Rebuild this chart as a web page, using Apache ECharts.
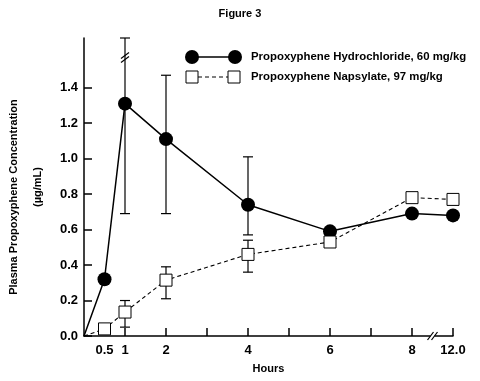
<!DOCTYPE html>
<html><head><meta charset="utf-8">
<script src="https://cdn.jsdelivr.net/npm/echarts@6/dist/echarts.min.js"></script>
<style>html,body{margin:0;padding:0;background:#fff}#c{width:480px;height:381px}</style>
</head><body><div id="c"></div>
<script>
const hours = [0, 0.5, 1, 2, 4, 6, 8, 12];
const hclMean = [0, 0.32, 1.31, 1.11, 0.74, 0.59, 0.69, 0.68];
const napMean = [0, 0.04, 0.135, 0.315, 0.46, 0.53, 0.78, 0.77];
const hclErrHours = [1, 2, 4];
const hclErrLow = [0.69, 0.69, 0.57];
const hclErrHigh = [1.68, 1.47, 1.01];
const napErrHours = [1, 2, 4];
const napErrLow = [0.05, 0.21, 0.36];
const napErrHigh = [0.20, 0.39, 0.54];
const xTickValues = [1, 2, 3, 4, 5, 6, 7, 8, 12];
const xLabelValues = [0.5, 1, 2, 4, 6, 8, 12];
const yTickValues = [0, 0.2, 0.4, 0.6, 0.8, 1.0, 1.2, 1.4];
const breakMarks = [[1, 1.57, 0], [8.5, 0, 1]];
const seriesNames = ['Propoxyphene Hydrochloride, 60 mg/kg', 'Propoxyphene Napsylate, 97 mg/kg'];
const yTitle = 'Plasma Propoxyphene Concentration';
const yUnit = '(µg/mL)';

const FONT = "'Liberation Sans', Arial, Helvetica, sans-serif";
const chart = echarts.init(document.getElementById('c'), null, {renderer: 'canvas'});

function errRender(params, api) {
  const x = api.value(0), lo = api.value(1), hi = api.value(2);
  const p1 = api.coord([x, lo]), p2 = api.coord([x, hi]);
  const w = 5, st = {stroke: '#000', lineWidth: 1.2};
  return {type: 'group', children: [
    {type: 'line', shape: {x1: p1[0], y1: p1[1], x2: p2[0], y2: p2[1]}, style: st},
    {type: 'line', shape: {x1: p1[0] - w, y1: p1[1], x2: p1[0] + w, y2: p1[1]}, style: st},
    {type: 'line', shape: {x1: p2[0] - w, y1: p2[1], x2: p2[0] + w, y2: p2[1]}, style: st}
  ]};
}
function breakRender(params, api) {
  const p = api.coord([api.value(0), api.value(1)]);
  const st = {stroke: '#000', lineWidth: 1.2};
  const kids = [];
  if (api.value(2) === 0) {
    [-2, 2].forEach(o => kids.push({type: 'line', shape: {x1: p[0] - 4, y1: p[1] + o + 3, x2: p[0] + 4, y2: p[1] + o - 3}, style: st}));
  } else {
    kids.push({type: 'rect', shape: {x: p[0] - 2, y: p[1] - 2, width: 4, height: 4}, style: {fill: '#fff'}});
    [-2, 2].forEach(o => kids.push({type: 'line', shape: {x1: p[0] + o - 3, y1: p[1] + 4, x2: p[0] + o + 3, y2: p[1] - 4}, style: st}));
  }
  return {type: 'group', children: kids};
}
const nameStyle = {color: '#000', fontWeight: 'bold', fontSize: 11, fontFamily: FONT, lineHeight: 22};

const option = {
  animation: false,
  backgroundColor: '#fff',
  title: {text: 'Figure 3', left: 'center', top: 3,
    textStyle: {fontFamily: "'Liberation Sans Narrow', " + FONT, fontWeight: 'bold', fontSize: 11, color: '#000'}},
  grid: {left: 84, right: 27, top: 38, bottom: 45, outerBoundsMode: 'none', containLabel: false},
  xAxis: {
    type: 'value', min: 0, max: 12,
    breaks: [{start: 8.5, end: 11.5, gap: 0}],
    breakArea: {show: false},
    axisLine: {lineStyle: {color: '#000', width: 1.5}},
    axisTick: {inside: true, length: 8, customValues: xTickValues, lineStyle: {color: '#000', width: 1.5}},
    axisLabel: {customValues: xLabelValues, color: '#000', fontWeight: 'bold', fontSize: 13, fontFamily: FONT, margin: 8,
      formatter: v => v === 12 ? '12.0' : String(v)},
    splitLine: {show: false},
    name: 'Hours', nameLocation: 'middle', nameGap: 27,
    nameTextStyle: {color: '#000', fontWeight: 'bold', fontSize: 11, fontFamily: FONT}
  },
  yAxis: [{
    type: 'value', min: 0, max: 1.68,
    axisLine: {show: true, lineStyle: {color: '#000', width: 1.5}},
    axisTick: {show: true, inside: true, length: 8, customValues: yTickValues, lineStyle: {color: '#000', width: 1.5}},
    axisLabel: {customValues: yTickValues, color: '#000', fontWeight: 'bold', fontSize: 13, fontFamily: FONT, margin: 6,
      formatter: v => v.toFixed(1)},
    splitLine: {show: false},
    name: yTitle, nameLocation: 'middle', nameRotate: 90, nameGap: 59,
    nameTextStyle: Object.assign({padding: [0, 20, 0, 0]}, nameStyle)
  }, {
    type: 'value', min: 0, max: 1.68, position: 'left',
    axisLine: {show: false}, axisTick: {show: false}, axisLabel: {show: false}, splitLine: {show: false},
    name: yUnit, nameLocation: 'middle', nameRotate: 90, nameGap: 35,
    nameTextStyle: nameStyle
  }],
  graphic: [
    {type: 'line', shape: {x1: 192, y1: 57, x2: 235, y2: 57}, style: {stroke: '#000', lineWidth: 1.5}},
    {type: 'circle', shape: {cx: 192, cy: 57, r: 7}, style: {fill: '#000'}},
    {type: 'circle', shape: {cx: 235, cy: 57, r: 7}, style: {fill: '#000'}},
    {type: 'line', shape: {x1: 198, y1: 77, x2: 228, y2: 77}, style: {stroke: '#000', lineWidth: 1, lineDash: [4, 3]}},
    {type: 'rect', shape: {x: 186, y: 71, width: 12, height: 12}, style: {fill: '#fff', stroke: '#000', lineWidth: 1}},
    {type: 'rect', shape: {x: 228, y: 71, width: 12, height: 12}, style: {fill: '#fff', stroke: '#000', lineWidth: 1}},
    {type: 'text', x: 251, y: 57, style: {text: seriesNames[0], fill: '#000', font: 'bold 11.4px ' + FONT, verticalAlign: 'middle'}},
    {type: 'text', x: 251, y: 77, style: {text: seriesNames[1], fill: '#000', font: 'bold 11.4px ' + FONT, verticalAlign: 'middle'}}
  ],
  series: [
    {type: 'custom', name: 'hclErr', z: 1, clip: false, renderItem: errRender,
      data: hclErrHours.map((h, i) => [h, hclErrLow[i], hclErrHigh[i]])},
    {type: 'custom', name: 'napErr', z: 1, clip: false, renderItem: errRender,
      data: napErrHours.map((h, i) => [h, napErrLow[i], napErrHigh[i]])},
    {type: 'line', name: seriesNames[0], z: 3, symbol: 'circle', symbolSize: 14,
      itemStyle: {color: '#000'}, lineStyle: {color: '#000', width: 1.5},
      data: hours.map((h, i) => ({value: [h, hclMean[i]], symbol: i === 0 ? 'none' : 'circle'}))},
    {type: 'line', name: seriesNames[1], z: 4, symbol: 'rect', symbolSize: 12,
      itemStyle: {color: '#fff', borderColor: '#000', borderWidth: 1}, lineStyle: {color: '#000', width: 1.1, type: [4, 3]},
      data: hours.map((h, i) => ({value: [h, napMean[i]], symbol: i === 0 ? 'none' : 'rect'}))},
    {type: 'custom', name: 'breaks', z: 5, clip: false, renderItem: breakRender, data: breakMarks}
  ]
};
chart.setOption(option);
</script></body></html>
